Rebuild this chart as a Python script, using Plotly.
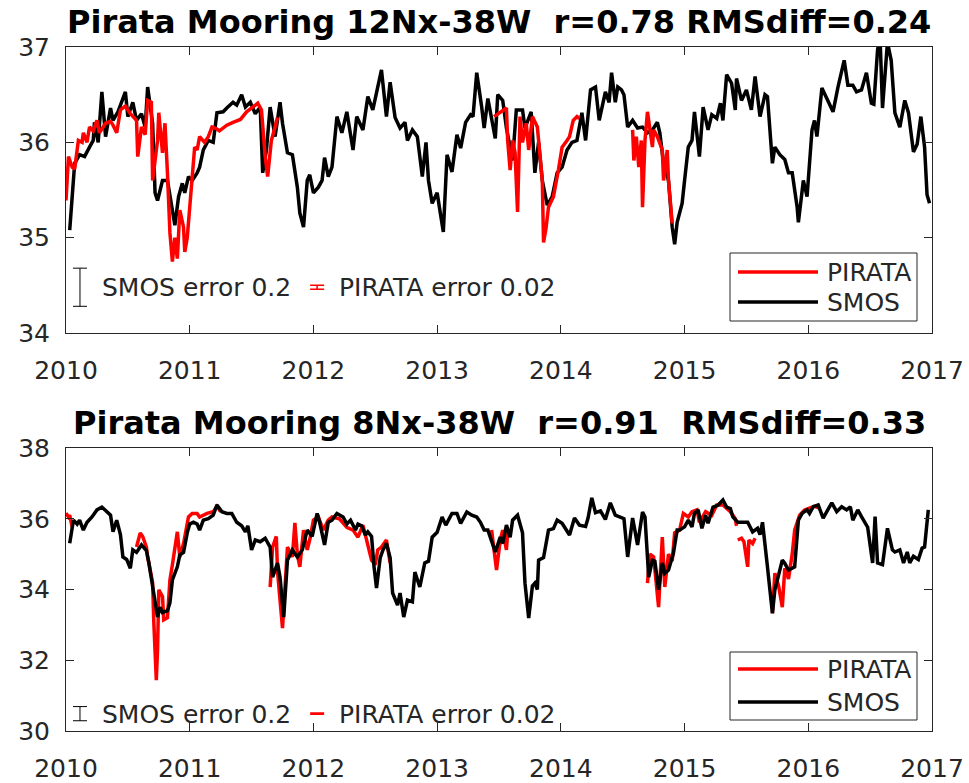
import plotly.graph_objects as go

# ---------------- data (decimal years, salinity) ----------------
top_smos_t = [2010.03,2010.07,2010.11,2010.15,2010.19,2010.22,2010.23,2010.26,2010.29,2010.32,2010.36,2010.38,2010.42,2010.48,2010.50,2010.54,2010.57,2010.61,2010.64,2010.66,2010.70,2010.72,2010.74,2010.78,2010.82,2010.86,2010.88,2010.91,2010.94,2010.96,2010.99,2011.02,2011.06,2011.08,2011.11,2011.15,2011.19,2011.22,2011.27,2011.30,2011.35,2011.38,2011.42,2011.45,2011.49,2011.53,2011.57,2011.59,2011.62,2011.65,2011.69,2011.73,2011.75,2011.79,2011.83,2011.87,2011.89,2011.92,2011.95,2011.97,2012.00,2012.04,2012.07,2012.09,2012.12,2012.15,2012.19,2012.23,2012.27,2012.32,2012.35,2012.40,2012.44,2012.48,2012.51,2012.55,2012.59,2012.62,2012.66,2012.70,2012.74,2012.76,2012.80,2012.84,2012.88,2012.91,2012.93,2012.96,2013.00,2013.02,2013.05,2013.08,2013.12,2013.16,2013.19,2013.23,2013.27,2013.29,2013.32,2013.36,2013.38,2013.41,2013.44,2013.47,2013.49,2013.53,2013.56,2013.61,2013.64,2013.69,2013.71,2013.76,2013.79,2013.82,2013.85,2013.89,2013.93,2013.97,2014.01,2014.05,2014.09,2014.13,2014.17,2014.20,2014.24,2014.28,2014.31,2014.36,2014.39,2014.41,2014.44,2014.46,2014.49,2014.51,2014.54,2014.58,2014.62,2014.66,2014.70,2014.74,2014.78,2014.80,2014.83,2014.87,2014.90,2014.92,2014.94,2014.98,2015.00,2015.03,2015.06,2015.08,2015.12,2015.15,2015.19,2015.22,2015.26,2015.29,2015.31,2015.34,2015.38,2015.41,2015.42,2015.46,2015.50,2015.54,2015.57,2015.61,2015.65,2015.67,2015.71,2015.73,2015.77,2015.81,2015.84,2015.87,2015.91,2015.92,2015.96,2015.99,2016.03,2016.05,2016.07,2016.11,2016.15,2016.20,2016.24,2016.29,2016.32,2016.36,2016.39,2016.43,2016.47,2016.51,2016.53,2016.56,2016.58,2016.60,2016.64,2016.67,2016.70,2016.74,2016.78,2016.81,2016.85,2016.88,2016.91,2016.94,2016.96,2016.98]
top_smos_v = [35.08,35.78,35.87,35.85,35.95,36.02,36.21,36.00,36.53,36.06,36.36,36.23,36.32,36.53,36.27,36.42,36.23,36.30,36.16,36.58,36.20,35.47,35.39,35.60,35.60,35.26,35.13,35.43,35.57,35.47,35.64,35.60,35.68,35.74,35.92,36.02,36.00,36.31,36.32,36.36,36.42,36.39,36.50,36.37,36.42,36.30,36.37,35.68,35.92,36.37,36.06,36.42,36.20,35.89,35.87,35.53,35.26,35.11,35.60,35.66,35.47,35.53,35.60,35.84,35.64,35.74,36.27,36.10,36.32,35.92,36.27,36.13,36.48,36.34,36.52,36.76,36.27,36.63,36.26,36.15,36.21,36.02,36.13,36.06,35.64,36.00,35.60,35.36,35.47,35.32,35.06,35.87,35.69,36.08,35.94,36.21,36.29,36.27,36.73,36.37,36.15,36.46,36.27,36.04,36.50,36.44,36.15,35.81,36.34,36.34,36.15,36.32,35.68,36.00,35.60,35.34,35.43,35.68,35.74,35.92,36.00,36.02,36.31,36.02,36.55,36.58,36.23,36.53,36.42,36.73,36.42,36.58,36.55,36.50,36.16,36.23,36.15,36.16,36.10,36.13,36.21,36.10,35.78,35.60,35.11,34.93,35.16,35.36,35.60,35.95,36.02,36.32,35.85,36.37,36.13,36.29,36.25,36.41,36.23,36.71,36.62,36.34,36.67,36.44,36.55,36.34,36.69,36.27,36.50,36.48,35.78,35.95,35.87,35.82,35.68,35.68,35.32,35.16,35.60,35.43,36.13,36.23,36.06,36.57,36.46,36.32,36.58,36.86,36.60,36.60,36.53,36.55,36.73,36.41,36.40,36.97,37.10,36.36,37.05,36.86,36.31,36.16,36.44,36.31,35.90,35.98,36.27,35.95,35.45,35.36]

# PIRATA 12N-38W (None = gap in record)
top_pir_t = [2010.00,2010.02,2010.05,2010.07,2010.10,2010.13,2010.14,2010.17,2010.19,2010.22,2010.25,2010.27,2010.32,2010.36,2010.38,2010.41,2010.44,2010.48,2010.52,2010.57,2010.58,2010.61,2010.64,2010.66,2010.69,2010.70,2010.74,2010.75,2010.78,2010.80,2010.82,2010.84,2010.86,2010.88,2010.90,2010.92,2010.95,2010.96,2010.98,2011.02,2011.04,2011.06,2011.08,2011.12,2011.15,2011.18,2011.22,2011.24,2011.30,2011.35,2011.41,2011.46,2011.51,2011.55,2011.58,2011.61,2011.63,2011.66,2011.69,2011.71,
             2011.72,
             2013.46,2013.51,2013.56,2013.57,2013.59,2013.61,2013.63,2013.65,2013.67,2013.69,2013.72,2013.74,2013.77,2013.81,2013.83,2013.85,2013.86,2013.88,2013.90,2013.94,2013.98,2014.01,2014.05,2014.07,2014.10,2014.13,2014.15,
             2014.16,
             2014.58,2014.59,2014.61,2014.63,2014.65,2014.66,2014.68,2014.70,2014.71,2014.74,2014.75,2014.78,2014.82,2014.83,2014.86,2014.87,2014.90]
top_pir_v = [35.39,35.85,35.74,35.72,36.02,36.00,36.10,36.00,36.16,36.12,36.23,36.10,36.20,36.22,36.18,36.10,36.34,36.38,36.30,36.23,35.85,36.16,36.08,36.44,36.42,35.60,36.02,36.31,35.89,36.20,35.68,35.05,34.75,35.00,34.78,35.29,35.11,34.85,35.00,35.57,35.95,35.92,36.06,36.00,36.06,36.16,36.14,36.12,36.18,36.21,36.24,36.32,36.37,36.41,36.34,35.85,35.64,36.02,36.16,36.26,
             None,
             36.27,36.32,36.36,36.02,35.71,36.02,35.89,35.27,36.27,36.00,36.20,35.92,36.27,36.16,35.85,35.60,34.95,35.10,35.32,35.43,35.71,35.95,36.02,36.06,36.23,36.27,36.25,
             None,
             36.13,35.81,36.06,35.74,36.02,35.32,36.02,36.32,36.23,35.95,36.13,36.06,35.92,35.60,35.92,35.60,35.15]

bot_smos_t = [2010.03,2010.06,2010.09,2010.11,2010.14,2010.17,2010.21,2010.25,2010.29,2010.33,2010.36,2010.38,2010.41,2010.44,2010.46,2010.49,2010.52,2010.54,2010.57,2010.61,2010.65,2010.67,2010.70,2010.74,2010.76,2010.78,2010.82,2010.84,2010.86,2010.90,2010.92,2010.95,2010.98,2011.00,2011.03,2011.06,2011.08,2011.11,2011.15,2011.19,2011.22,2011.26,2011.30,2011.34,2011.38,2011.42,2011.45,2011.47,2011.50,2011.53,2011.57,2011.61,2011.65,2011.67,2011.71,2011.73,2011.76,2011.79,2011.83,2011.87,2011.91,2011.95,2011.99,2012.03,2012.05,2012.09,2012.12,2012.15,2012.19,2012.24,2012.27,2012.30,2012.34,2012.36,2012.39,2012.42,2012.44,2012.47,2012.49,2012.51,2012.54,2012.56,2012.59,2012.62,2012.64,2012.68,2012.70,2012.73,2012.76,2012.80,2012.82,2012.86,2012.90,2012.93,2012.96,2013.00,2013.04,2013.07,2013.12,2013.16,2013.19,2013.24,2013.28,2013.32,2013.35,2013.38,2013.41,2013.47,2013.51,2013.53,2013.56,2013.59,2013.61,2013.65,2013.69,2013.71,2013.74,2013.77,2013.79,2013.81,2013.82,2013.86,2013.90,2013.94,2013.97,2014.01,2014.07,2014.11,2014.15,2014.20,2014.22,2014.25,2014.28,2014.32,2014.36,2014.40,2014.44,2014.48,2014.51,2014.54,2014.58,2014.62,2014.66,2014.68,2014.71,2014.74,2014.76,2014.79,2014.82,2014.84,2014.87,2014.91,2014.94,2014.96,2015.00,2015.03,2015.06,2015.08,2015.11,2015.14,2015.17,2015.19,2015.23,2015.27,2015.31,2015.34,2015.37,2015.39,2015.43,2015.47,2015.51,2015.55,2015.59,2015.61,2015.63,2015.67,2015.71,2015.73,2015.76,2015.79,2015.81,2015.84,2015.87,2015.89,2015.92,2015.95,2015.99,2016.01,2016.04,2016.08,2016.12,2016.15,2016.19,2016.23,2016.27,2016.31,2016.34,2016.36,2016.40,2016.43,2016.48,2016.52,2016.54,2016.56,2016.60,2016.64,2016.68,2016.70,2016.74,2016.77,2016.80,2016.82,2016.85,2016.89,2016.92,2016.94,2016.97]
bot_smos_v = [35.31,35.96,35.85,35.96,35.68,35.90,36.05,36.25,36.33,36.20,36.10,35.63,35.96,35.55,34.92,34.85,34.60,35.12,35.05,35.26,35.10,34.75,34.07,33.22,33.50,33.35,33.40,33.62,34.27,34.64,34.98,35.05,35.60,35.85,35.90,35.85,35.68,35.96,36.00,36.10,36.39,36.20,36.15,36.15,35.90,35.80,35.63,35.80,35.12,35.40,35.35,35.45,35.20,34.35,34.75,34.35,33.22,34.83,35.12,34.92,35.12,35.68,35.50,36.15,35.90,35.26,35.90,35.96,36.15,36.05,35.85,35.96,35.68,35.85,35.80,35.54,35.63,35.50,34.64,34.04,34.90,35.10,35.31,34.90,33.90,33.56,33.90,33.22,33.70,33.65,34.49,34.07,34.75,34.80,35.48,35.62,36.05,35.82,36.15,36.15,35.87,36.19,36.10,36.05,35.90,35.68,35.68,35.06,35.48,35.30,35.82,35.48,35.96,36.10,35.60,34.18,33.19,34.10,34.18,34.00,34.83,34.90,35.68,35.72,35.96,35.87,35.54,36.02,35.82,35.78,36.02,36.59,36.17,36.22,35.98,36.45,36.10,36.05,36.00,34.92,36.02,35.26,36.19,36.05,34.35,34.83,34.80,33.99,34.75,34.46,34.55,35.03,35.68,35.68,35.77,35.96,35.77,36.15,36.25,35.73,36.10,35.87,36.33,36.38,36.53,36.33,36.29,36.05,35.90,35.90,35.90,35.63,35.73,35.55,35.90,34.64,33.33,33.99,34.46,34.83,34.74,34.55,34.60,34.64,35.96,36.15,36.25,36.15,36.34,36.39,36.02,36.20,36.45,36.20,36.34,36.25,36.34,35.96,36.25,36.06,35.76,34.75,36.06,34.75,34.70,35.73,35.12,35.06,35.12,34.75,35.06,34.75,34.94,34.85,35.17,35.20,36.25]

# PIRATA 8N-38W (None = gap in record)
bot_pir_t = [2010.00,2010.02,2010.03,2010.05,
             2010.06,
             2010.57,2010.60,2010.62,2010.65,2010.66,2010.70,2010.71,2010.73,2010.74,2010.75,2010.78,2010.79,2010.82,2010.84,2010.86,2010.90,2010.92,2010.95,2010.99,2011.02,2011.06,2011.08,2011.14,2011.19,2011.22,2011.25,
             2011.26,
             2011.65,2011.67,2011.70,2011.71,2011.75,2011.77,2011.79,2011.83,2011.85,2011.87,2011.89,2011.92,2011.95,2011.97,2012.00,2012.04,2012.08,2012.12,2012.15,2012.21,2012.27,2012.32,2012.36,2012.40,2012.44,2012.47,2012.50,2012.52,2012.55,2012.59,2012.62,
             2012.63,
             2013.44,2013.47,2013.48,2013.51,2013.53,2013.56,2013.57,
             2013.58,
             2014.70,2014.72,2014.75,2014.77,2014.79,2014.82,2014.84,2014.87,2014.90,2014.92,2014.96,2014.99,2015.03,2015.06,2015.10,2015.12,2015.17,2015.22,2015.26,2015.31,2015.37,2015.41,2015.42,
             2015.425,
             2015.43,2015.46,2015.48,2015.51,2015.52,2015.55,2015.57,
             2015.58,
             2015.71,2015.73,2015.76,2015.79,2015.81,2015.84,2015.87,2015.89,2015.93,2015.97,2016.01,2016.05,2016.09]
bot_pir_v = [36.16,36.05,36.10,35.76,
             None,
             35.20,35.60,35.50,35.20,34.92,34.20,33.05,31.44,32.29,33.99,33.80,33.14,33.20,34.27,34.70,35.63,34.92,35.30,36.05,36.15,36.15,36.05,36.15,36.20,36.35,36.20,
             None,
             34.07,35.20,35.50,34.50,32.91,34.00,35.20,34.92,35.88,35.00,34.64,35.68,35.12,35.40,35.96,36.05,35.68,35.96,36.05,36.00,35.76,35.68,35.48,35.82,35.20,34.83,34.70,35.12,35.20,35.40,34.75,
             None,
             35.68,34.92,34.55,35.40,35.68,35.12,35.60,
             None,
             34.18,35.00,34.92,34.30,33.50,35.48,34.07,35.00,34.80,35.60,35.68,36.15,36.05,36.20,36.25,35.90,36.20,36.10,36.39,36.39,36.20,36.00,35.80,
             None,
             35.40,35.45,35.35,34.64,35.40,35.30,35.45,
             None,
             33.33,34.46,34.10,33.50,34.60,34.30,35.00,35.68,36.10,36.25,36.30,36.35,36.30]

years = [2010, 2011, 2012, 2013, 2014, 2015, 2016, 2017]
year_labels = [str(y) for y in years]
top_yticks = [34, 35, 36, 37]
bot_yticks = [30, 32, 34, 36, 38]
titles = ["Pirata Mooring 12Nx-38W  r=0.78 RMSdiff=0.24",
          "Pirata Mooring 8Nx-38W  r=0.91  RMSdiff=0.33"]
smos_err = 0.2
pirata_err = 0.02

# ---------------- figure ----------------
W, H = 969, 783
def px(x): return x / W          # screen pixel -> paper fraction
def py(y): return 1 - y / H

FONT = "DejaVu Sans"
TXT = "#262626"
RED = "#ff0000"
LW = 3.5

fig = go.Figure()

# top panel: SMOS under PIRATA
fig.add_trace(go.Scatter(x=top_smos_t, y=top_smos_v, mode="lines", line=dict(color="black", width=LW),
                         xaxis="x", yaxis="y", showlegend=False, connectgaps=False))
fig.add_trace(go.Scatter(x=top_pir_t, y=top_pir_v, mode="lines", line=dict(color=RED, width=LW),
                         xaxis="x", yaxis="y", showlegend=False, connectgaps=False))
# bottom panel: PIRATA under SMOS
fig.add_trace(go.Scatter(x=bot_pir_t, y=bot_pir_v, mode="lines", line=dict(color=RED, width=LW),
                         xaxis="x2", yaxis="y2", showlegend=False, connectgaps=False))
fig.add_trace(go.Scatter(x=bot_smos_t, y=bot_smos_v, mode="lines", line=dict(color="black", width=LW),
                         xaxis="x2", yaxis="y2", showlegend=False, connectgaps=False))

# error-bar keys
for xa, ya, yc in (("x", "y", 34.48), ("x2", "y2", 30.49)):
    fig.add_trace(go.Scatter(x=[2010.113], y=[yc], mode="markers", marker=dict(size=1, color="black", opacity=0),
                             error_y=dict(type="constant", value=smos_err, color="black", thickness=1, width=7),
                             xaxis=xa, yaxis=ya, showlegend=False, hoverinfo="skip"))
    fig.add_trace(go.Scatter(x=[2012.03], y=[yc], mode="markers", marker=dict(size=1, color=RED, opacity=0),
                             error_y=dict(type="constant", value=pirata_err, color=RED, thickness=1.5, width=7),
                             xaxis=xa, yaxis=ya, showlegend=False, hoverinfo="skip"))

axis_common = dict(showline=True, linecolor=TXT, linewidth=1, mirror="ticks", ticks="inside",
                   ticklen=8, tickcolor=TXT, showgrid=False, zeroline=False, automargin=False,
                   ticklabeloverflow="allow",
                   tickfont=dict(family=FONT, size=25, color=TXT))

fig.update_layout(
    width=W, height=H, paper_bgcolor="white", plot_bgcolor="white",
    margin=dict(l=0, r=0, t=0, b=0, autoexpand=False), showlegend=False,
    xaxis=dict(domain=[px(66), px(932)], range=[2010, 2017], tickvals=years, ticktext=year_labels,
               anchor="y", ticklabelstandoff=15, **axis_common),
    yaxis=dict(domain=[py(333), py(47)], range=[34, 37], tickvals=top_yticks, anchor="x",
               ticklabelstandoff=10, **axis_common),
    xaxis2=dict(domain=[px(66), px(932)], range=[2010, 2017], tickvals=years, ticktext=year_labels,
                anchor="y2", ticklabelstandoff=15, **axis_common),
    yaxis2=dict(domain=[py(731), py(448)], range=[30, 38], tickvals=bot_yticks, anchor="x2",
                ticklabelstandoff=10, **axis_common),
)

ann = []
# titles
for t, yc in zip(titles, (22, 423)):
    ann.append(dict(text="<b>" + t + "</b>", x=px(499), y=py(yc), xref="paper", yref="paper",
                    xanchor="center", yanchor="middle", showarrow=False,
                    font=dict(family=FONT, size=32, color="black")))
# error annotations
for yc in (287, 714):
    ann.append(dict(text="SMOS error 0.2", x=px(100), y=py(yc), xref="paper", yref="paper",
                    xanchor="left", yanchor="middle", showarrow=False,
                    font=dict(family=FONT, size=25, color=TXT)))
    ann.append(dict(text="PIRATA error 0.02", x=px(337), y=py(yc), xref="paper", yref="paper",
                    xanchor="left", yanchor="middle", showarrow=False,
                    font=dict(family=FONT, size=25, color=TXT)))

# manual legends
shapes = []
for top, bot, r_y, b_y in ((253, 321, 272, 302), (652, 720, 669, 702)):
    shapes.append(dict(type="rect", xref="paper", yref="paper", x0=px(730), x1=px(917), y0=py(bot), y1=py(top),
                       line=dict(color=TXT, width=1), fillcolor="white", layer="above"))
    shapes.append(dict(type="line", xref="paper", yref="paper", x0=px(738), x1=px(818), y0=py(r_y), y1=py(r_y),
                       line=dict(color=RED, width=LW), layer="above"))
    shapes.append(dict(type="line", xref="paper", yref="paper", x0=px(738), x1=px(818), y0=py(b_y), y1=py(b_y),
                       line=dict(color="black", width=LW), layer="above"))
    ann.append(dict(text="PIRATA", x=px(825), y=py(r_y), xref="paper", yref="paper", xanchor="left",
                    yanchor="middle", showarrow=False, font=dict(family=FONT, size=25, color=TXT)))
    ann.append(dict(text="SMOS", x=px(825), y=py(b_y), xref="paper", yref="paper", xanchor="left",
                    yanchor="middle", showarrow=False, font=dict(family=FONT, size=25, color=TXT)))

fig.update_layout(annotations=ann, shapes=shapes)
# remove the browser's default page margin so the figure fills the window exactly
fig.write_html("out.html", config={"displayModeBar": False},
               post_script="document.body.style.margin='0';document.body.style.overflow='hidden';")
